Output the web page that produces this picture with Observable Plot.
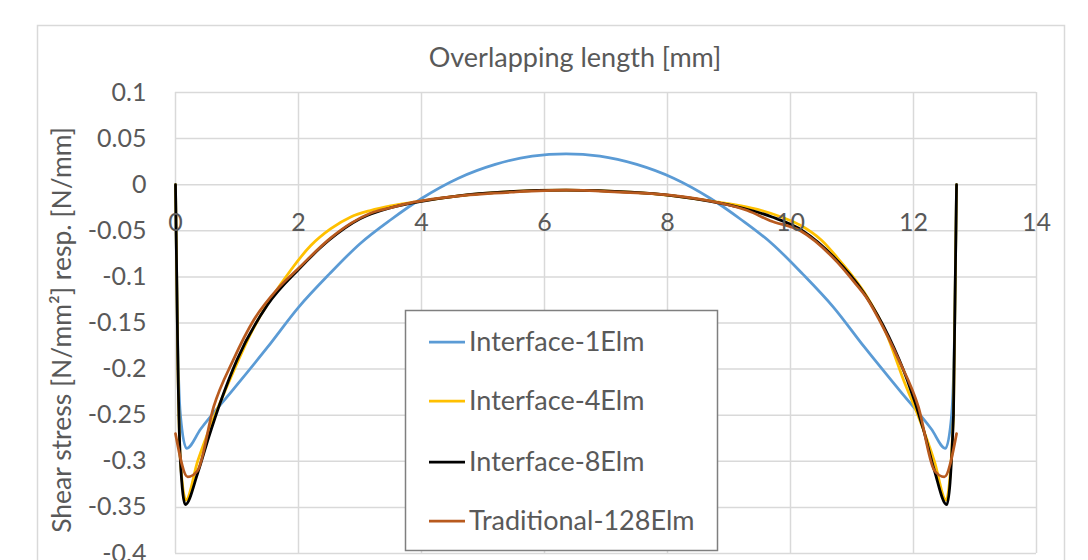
<!DOCTYPE html>
<html><head><meta charset="utf-8">
<script src="https://cdn.jsdelivr.net/npm/d3@7"></script>
<script src="https://cdn.jsdelivr.net/npm/@observablehq/plot@0.6"></script>
<style>
body{margin:0;background:#fff;}
#chart{position:relative;width:1088px;height:560px;overflow:hidden;}
</style></head><body><div id="chart"></div>
<script>
const seriesNames = ["Interface-1Elm", "Interface-4Elm", "Interface-8Elm", "Traditional-128Elm"];
const seriesColors = ["#5B9BD5", "#FFC000", "#000000", "#B85A1E"];
const xTicks = [0, 2, 4, 6, 8, 10, 12, 14];
const yTicks = [0.1, 0.05, 0, -0.05, -0.1, -0.15, -0.2, -0.25, -0.3, -0.35, -0.4];
const xTitle = "Overlapping length [mm]";
const yTitle = "Shear stress [N/mm²] resp. [N/mm]";

const blueX = [0, 0.03, 0.08, 0.18, 0.41, 0.94, 1.5, 2.0, 2.5, 3.0, 3.5, 4.0, 4.6, 5.2, 5.8, 6.35, 6.9, 7.5, 8.1, 8.7, 9.2, 9.7, 10.2, 10.7, 11.2, 11.76, 12.29, 12.52, 12.62, 12.67, 12.7];
const blueY = [0, -0.15, -0.25, -0.286, -0.265, -0.222, -0.176, -0.133, -0.097, -0.064, -0.038, -0.015, 0.007, 0.022, 0.031, 0.0335, 0.031, 0.022, 0.007, -0.015, -0.038, -0.064, -0.097, -0.133, -0.176, -0.222, -0.265, -0.286, -0.25, -0.15, 0];

const yellowX = [0, 0.04, 0.08, 0.17, 0.36, 0.58, 0.81, 1.25, 1.87, 2.2, 2.52, 2.85, 3.17, 3.5, 3.87, 4.6, 5.3, 6.35, 7.4, 8.1, 8.83, 9.2, 9.53, 9.85, 10.16, 10.5, 10.76, 11.25, 11.55, 11.84, 12.1, 12.34, 12.53, 12.65, 12.7];
const yellowY = [0, -0.2, -0.3, -0.342, -0.3, -0.26, -0.223, -0.158, -0.093, -0.066, -0.048, -0.035, -0.028, -0.023, -0.019, -0.012, -0.008, -0.006, -0.008, -0.012, -0.019, -0.023, -0.028, -0.035, -0.044, -0.06, -0.079, -0.122, -0.16, -0.212, -0.255, -0.3, -0.342, -0.25, 0];

const blackX = [0, 0.04, 0.08, 0.16, 0.36, 0.54, 0.73, 1.0, 1.5, 2.0, 2.5, 3.0, 3.5, 4.0, 4.6, 5.3, 6.35, 7.4, 8.1, 8.7, 9.2, 9.7, 10.2, 10.7, 11.2, 11.6, 11.9, 12.16, 12.34, 12.54, 12.65, 12.7];
const blackY = [0, -0.2, -0.3, -0.347, -0.313, -0.274, -0.236, -0.19, -0.13, -0.092, -0.06, -0.037, -0.025, -0.018, -0.012, -0.008, -0.006, -0.008, -0.012, -0.018, -0.025, -0.035, -0.05, -0.078, -0.118, -0.165, -0.212, -0.265, -0.31, -0.347, -0.25, 0];

const brownX = [0, 0.2, 0.36, 0.62, 0.94, 1.27, 1.66, 1.98, 2.52, 2.85, 3.17, 3.5, 3.87, 4.63, 5.5, 6.35, 7.2, 8.0, 8.86, 9.3, 9.67, 10.16, 10.76, 11.04, 11.25, 11.43, 11.76, 12.08, 12.34, 12.5, 12.7];
const brownY = [-0.27, -0.317, -0.31, -0.241, -0.19, -0.147, -0.113, -0.092, -0.058, -0.042, -0.031, -0.025, -0.019, -0.012, -0.008, -0.006, -0.008, -0.011, -0.02, -0.028, -0.039, -0.05, -0.084, -0.106, -0.124, -0.145, -0.19, -0.241, -0.31, -0.317, -0.27];

const seriesX = [blueX, yellowX, blackX, brownX];
const seriesY = [blueY, yellowY, blackY, brownY];
const data = [];
seriesNames.forEach((name, i) => {
  seriesX[i].forEach((x, j) => data.push({series: name, x, y: seriesY[i][j]}));
});

const FONT = "Lato, 'Open Sans', sans-serif";
const TXT = "#595959";
const FS = 25;
const FS2 = 27;

const plot = Plot.plot({
  width: 1088,
  height: 560,
  marginLeft: 175,
  marginRight: 52,
  marginTop: 92,
  marginBottom: 7,
  style: {fontFamily: FONT, fontSize: FS + "px", color: TXT, background: "#fff", overflow: "hidden"},
  x: {domain: [0, 14], axis: null},
  y: {domain: [-0.4, 0.1]},
  color: {domain: seriesNames, range: seriesColors},
  marks: [
    Plot.gridX(xTicks, {stroke: "#d9d9d9", strokeOpacity: 1, strokeWidth: 1.5}),
    Plot.gridY(yTicks, {stroke: "#d9d9d9", strokeOpacity: 1, strokeWidth: 1.5}),
    Plot.axisY(yTicks, {tickSize: 0, tickPadding: 29, tickFormat: d => String(d), fontSize: FS, fill: TXT, label: null}),
    Plot.line(data, {x: "x", y: "y", z: "series", stroke: "series", strokeWidth: 2.75, curve: "monotone-x"}),
    Plot.text(xTicks, {x: d => d, y: () => 0, dy: 38, text: d => String(d), fontSize: FS, fill: TXT})
  ]
});

const svg = d3.select(plot);
svg.append("rect").attr("x", 37.5).attr("y", 25.5).attr("width", 1027).attr("height", 600)
  .attr("fill", "none").attr("stroke", "#d9d9d9").attr("stroke-width", 1.5);
svg.append("text").attr("x", 575).attr("y", 58).attr("dy", "0.35em").attr("text-anchor", "middle")
  .attr("font-family", FONT).attr("font-size", FS2).attr("fill", TXT).text(xTitle);
svg.append("text").attr("transform", "translate(62,330) rotate(-90)").attr("dy", "0.35em").attr("text-anchor", "middle")
  .attr("font-family", FONT).attr("font-size", 26.5).attr("fill", TXT).text(yTitle);

const legend = svg.append("g");
legend.append("rect").attr("x", 405.5).attr("y", 310.5).attr("width", 312).attr("height", 240)
  .attr("fill", "#fff").attr("stroke", "#7f7f7f").attr("stroke-width", 1.5);
const rowY = [342, 401, 462, 521];
seriesNames.forEach((name, i) => {
  legend.append("line").attr("x1", 429).attr("x2", 465).attr("y1", rowY[i]).attr("y2", rowY[i])
    .attr("stroke", seriesColors[i]).attr("stroke-width", 2.75);
  legend.append("text").attr("x", 469).attr("y", rowY[i]).attr("dy", "0.35em").attr("text-anchor", "start")
    .attr("font-family", FONT).attr("font-size", FS2).attr("fill", TXT).text(name);
});

document.getElementById("chart").appendChild(plot);
</script>
</body></html>
